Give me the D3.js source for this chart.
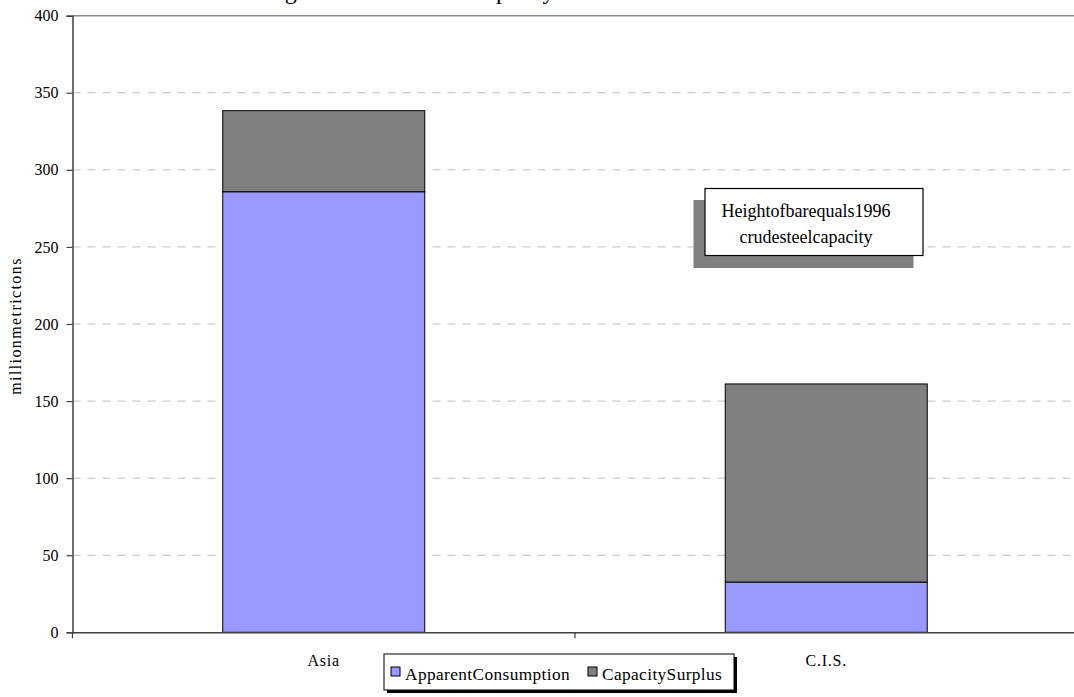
<!DOCTYPE html>
<html>
<head>
<meta charset="utf-8">
<script src="https://cdn.jsdelivr.net/npm/d3@7"></script>
<style>
  html, body { margin: 0; padding: 0; background: #fff; }
  svg { display: block; }
  svg text { font-family: "Liberation Serif", "Times New Roman", Times, serif; }
</style>
</head>
<body>
<svg id="chart" width="1074" height="697"></svg>
<script>
// Regions and their 1996 steel figures (million metric tons)
const regions = ["Asia", "C.I.S."];
const apparentConsumption = [285.8, 32.6];
const capacitySurplus = [52.6, 128.5];
const seriesNames = ["ApparentConsumption", "CapacitySurplus"];
const seriesColors = ["#9999FF", "#808080"];
const yTicks = [0, 50, 100, 150, 200, 250, 300, 350, 400];
const noteLines = ["Heightofbarequals1996", "crudesteelcapacity"];
const titleText = "Regional Crude Steel Capacity";

const serif = "'Liberation Serif', 'Times New Roman', Times, serif";
const svg = d3.select("#chart").attr("font-family", serif);

// plot area
const plotLeft = 72.5, plotRight = 1077.5, plotTop = 15.7, plotBottom = 632.3;

const x = d3.scaleBand().domain(regions).range([plotLeft, plotRight]).padding(0);
const y = d3.scaleLinear().domain([0, 400]).range([plotBottom, plotTop]);

// stacked layout
const rows = regions.map((r, i) => ({
  region: r,
  ApparentConsumption: apparentConsumption[i],
  CapacitySurplus: capacitySurplus[i]
}));
const stacked = d3.stack().keys(seriesNames)(rows);

// title (its top runs off the page edge)
svg.append("text")
  .attr("x", 258).attr("y", -1)
  .attr("font-family", serif)
  .attr("font-size", 24)
  .attr("fill", "#000")
  .text(titleText);

// horizontal gridlines
svg.append("g")
  .selectAll("line")
  .data(yTicks.filter(t => t > 0 && t < 400))
  .join("line")
  .attr("x1", plotLeft).attr("x2", 1074)
  .attr("y1", d => y(d)).attr("y2", d => y(d))
  .attr("stroke", "#c0c0c0")
  .attr("stroke-width", 1)
  .attr("stroke-dasharray", "8,7");

// top gridline at the axis maximum
svg.append("line")
  .attr("x1", plotLeft).attr("x2", 1074)
  .attr("y1", y(400)).attr("y2", y(400))
  .attr("stroke", "#8c8c8c")
  .attr("stroke-width", 1.5);

// bars
const barW = x.bandwidth() * 0.402;
svg.append("g")
  .selectAll("g")
  .data(stacked)
  .join("g")
  .attr("fill", (d, i) => seriesColors[i])
  .selectAll("rect")
  .data(d => d)
  .join("rect")
  .attr("x", d => x(d.data.region) + x.bandwidth() / 2 - barW / 2)
  .attr("width", barW)
  .attr("y", d => y(d[1]))
  .attr("height", d => y(d[0]) - y(d[1]))
  .attr("stroke", "#000")
  .attr("stroke-width", 1);

// y axis
const yAxis = svg.append("g")
  .attr("transform", `translate(${plotLeft},0)`)
  .call(d3.axisLeft(y).tickValues(yTicks).tickSize(6).tickPadding(8).tickFormat(d3.format("d")))
  .attr("font-family", serif);
yAxis.select(".domain").attr("stroke", "#404040").attr("stroke-width", 1.5);
yAxis.selectAll(".tick line").attr("stroke", "#404040").attr("stroke-width", 1.2);
yAxis.selectAll(".tick text")
  .attr("font-size", 16)
  .attr("font-family", serif)
  .attr("fill", "#000");

// x axis
const xAxis = svg.append("g")
  .attr("transform", `translate(0,${plotBottom})`)
  .call(d3.axisBottom(x).tickSize(0).tickPadding(22))
  .attr("font-family", serif);
xAxis.select(".domain").attr("stroke", "#404040").attr("stroke-width", 1.5);
xAxis.selectAll(".tick text")
  .attr("font-size", 16)
  .attr("letter-spacing", 0.8)
  .attr("font-family", serif)
  .attr("fill", "#000");

// category separator ticks on the x axis
const sepTicks = [x.range()[0]].concat(regions.slice(1).map(r => x(r)));
svg.append("g")
  .selectAll("line")
  .data(sepTicks)
  .join("line")
  .attr("x1", d => d).attr("x2", d => d)
  .attr("y1", plotBottom).attr("y2", plotBottom + 6)
  .attr("stroke", "#404040")
  .attr("stroke-width", 1.2);

// y axis title
svg.append("text")
  .attr("transform", `translate(21,${(plotTop + plotBottom) / 2 + 2}) rotate(-90)`)
  .attr("text-anchor", "middle")
  .attr("font-family", serif)
  .attr("font-size", 16)
  .attr("letter-spacing", 1.4)
  .attr("fill", "#000")
  .text("millionmetrictons");

// note box with drop shadow
const note = svg.append("g");
note.append("rect")
  .attr("x", 693.5).attr("y", 200).attr("width", 220).attr("height", 68)
  .attr("fill", "#808080");
note.append("rect")
  .attr("x", 705).attr("y", 188.5).attr("width", 218).attr("height", 67)
  .attr("fill", "#fff").attr("stroke", "#000").attr("stroke-width", 1.2);
note.selectAll("text")
  .data(noteLines)
  .join("text")
  .attr("x", 806)
  .attr("y", (d, i) => 217 + i * 26)
  .attr("text-anchor", "middle")
  .attr("font-family", serif)
  .attr("font-size", 18)
  .attr("fill", "#000")
  .text(d => d);

// legend with drop shadow
const legend = svg.append("g");
legend.append("rect")
  .attr("x", 387).attr("y", 657).attr("width", 350).attr("height", 36)
  .attr("fill", "#000");
legend.append("rect")
  .attr("x", 384).attr("y", 654).attr("width", 350).attr("height", 36)
  .attr("fill", "#fff").attr("stroke", "#000").attr("stroke-width", 1);
const itemX = [391, 588];
const items = legend.selectAll("g.item")
  .data(seriesNames)
  .join("g")
  .attr("class", "item")
  .attr("transform", (d, i) => `translate(${itemX[i]},0)`);
items.append("rect")
  .attr("x", 0).attr("y", 667).attr("width", 9).attr("height", 9)
  .attr("fill", (d, i) => seriesColors[i])
  .attr("stroke", "#000").attr("stroke-width", 1);
items.append("text")
  .attr("x", 14).attr("y", 680)
  .attr("font-family", serif)
  .attr("font-size", 17.3)
  .attr("letter-spacing", 0.4)
  .attr("fill", "#000")
  .text(d => d);
</script>
</body>
</html>
